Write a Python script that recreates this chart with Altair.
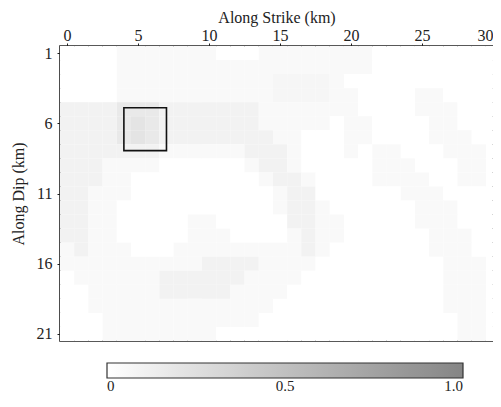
import altair as alt
import pandas as pd

strike_km = [0, 1, 2, 3, 4, 5, 6, 7, 8, 9, 10, 11, 12, 13, 14, 15,
             16, 17, 18, 19, 20, 21, 22, 23, 24, 25, 26, 27, 28, 29, 30]
dip_km = [1, 2, 3, 4, 5, 6, 7, 8, 9, 10, 11, 12, 13, 14, 15, 16, 17, 18, 19, 20, 21]

row_01 = [0, 0, 0, 0, .05, .05, .05, .05, .05, .05, .05, 0, 0, 0, .05, .05, .05, .05, .05, .05, .05, .05, 0, 0, 0, 0, 0, 0, 0, 0, 0]
row_02 = [0, 0, 0, 0, .05, .05, .05, .05, .05, .05, .05, .05, .05, .05, .05, .05, .05, .05, .05, .05, .05, .05, 0, 0, 0, 0, 0, 0, 0, 0, 0]
row_03 = [0, 0, 0, 0, .05, .05, .05, .05, .05, .05, .05, .05, .05, .05, .05, .07, .07, .07, .07, .05, 0, 0, 0, 0, 0, 0, 0, 0, 0, 0, 0]
row_04 = [0, 0, 0, 0, .05, .05, .05, .05, .05, .05, .05, .05, .05, .05, .05, .07, .07, .07, .07, .05, .05, 0, 0, 0, 0, .05, .05, 0, 0, 0, 0]
row_05 = [.1, .1, .1, .1, .17, .17, .17, .1, .1, .1, .1, .1, .1, .1, .05, .05, .05, .05, .05, .05, .05, 0, 0, 0, 0, .05, .05, .05, 0, 0, 0]
row_06 = [.1, .1, .1, .1, .17, .21, .17, .1, .1, .1, .1, .1, .1, .1, .05, .05, .05, .05, .05, 0, .05, .05, 0, 0, 0, 0, .05, .05, 0, 0, 0]
row_07 = [.1, .1, .1, .1, .17, .21, .17, .1, .1, .1, .1, .1, .1, .1, .1, .05, .05, 0, 0, 0, .05, .05, 0, 0, 0, 0, .05, .05, .05, 0, 0]
row_08 = [.1, .1, .1, .1, .1, .1, .1, .05, .05, .05, .05, .05, .05, .1, .1, .1, .05, 0, 0, 0, .05, 0, .05, .05, 0, 0, 0, .05, .05, .05, 0]
row_09 = [.1, .1, .1, .05, .05, .05, .05, 0, 0, 0, 0, 0, 0, .05, .1, .1, .05, 0, 0, 0, 0, 0, .05, .05, .05, 0, 0, 0, .05, .05, 0]
row_10 = [.1, .1, .1, .05, .05, 0, 0, 0, 0, 0, 0, 0, 0, 0, .05, .1, .1, .05, 0, 0, 0, 0, .05, .05, .05, .05, 0, 0, .05, .05, 0]
row_11 = [.1, .1, .05, .05, .05, 0, 0, 0, 0, 0, 0, 0, 0, 0, 0, .05, .1, .1, 0, 0, 0, 0, 0, 0, .05, .05, .05, 0, 0, 0, 0]
row_12 = [.1, .1, .05, .05, 0, 0, 0, 0, 0, 0, 0, 0, 0, 0, 0, .05, .1, .1, .05, 0, 0, 0, 0, 0, 0, .05, .05, .05, 0, 0, 0]
row_13 = [.1, .1, .05, .05, 0, 0, 0, 0, 0, .05, .05, 0, 0, 0, 0, 0, .1, .1, .05, .05, 0, 0, 0, 0, 0, .05, .05, .05, 0, 0, 0]
row_14 = [.1, .1, .05, .05, 0, 0, 0, 0, 0, .05, .05, .05, 0, 0, 0, 0, .05, .1, .05, .05, 0, 0, 0, 0, 0, 0, .05, .05, .05, 0, 0]
row_15 = [.05, .1, .05, .05, .05, 0, 0, 0, .05, .05, .05, .05, .05, .05, .05, .05, .05, .1, .05, 0, 0, 0, 0, 0, 0, 0, .05, .05, .05, 0, 0]
row_16 = [.05, .05, .05, .05, .05, .05, .05, .05, .05, .05, .1, .1, .1, .1, .05, .05, .05, .05, 0, 0, 0, 0, 0, 0, 0, 0, 0, .05, .05, .05, 0]
row_17 = [0, .05, .05, .05, .05, .05, .05, .1, .1, .1, .1, .1, .1, .05, .05, .05, .05, 0, 0, 0, 0, 0, 0, 0, 0, 0, 0, .05, .05, .05, 0]
row_18 = [0, 0, .05, .05, .05, .05, .05, .1, .1, .1, .1, .1, .05, .05, .05, .05, 0, 0, 0, 0, 0, 0, 0, 0, 0, 0, 0, .05, .05, .05, 0]
row_19 = [0, 0, .05, .05, .05, .05, .05, .05, .05, .05, .05, .05, .05, .05, .05, 0, 0, 0, 0, 0, 0, 0, 0, 0, 0, 0, 0, .05, .05, .05, 0]
row_20 = [0, 0, 0, .05, .05, .05, .05, .05, .05, .05, .05, .05, .05, .05, 0, 0, 0, 0, 0, 0, 0, 0, 0, 0, 0, 0, 0, 0, .05, .05, 0]
row_21 = [0, 0, 0, .05, .05, .05, .05, .05, .05, .05, .05, 0, 0, 0, 0, 0, 0, 0, 0, 0, 0, 0, 0, 0, 0, 0, 0, 0, .05, .05, 0]

rows = [row_01, row_02, row_03, row_04, row_05, row_06, row_07, row_08, row_09, row_10,
        row_11, row_12, row_13, row_14, row_15, row_16, row_17, row_18, row_19, row_20, row_21]

box_strike = [4, 7]
box_dip = [4.9, 7.95]

x_ticks = [0, 5, 10, 15, 20, 25, 30]
y_ticks = [1, 6, 11, 16, 21]
legend_values = [0, 0.5, 1]

records = []
for yi, row in zip(dip_km, rows):
    for xi, v in zip(strike_km, row):
        records.append({"xs": xi - 0.5, "xe": xi + 0.5, "ys": yi - 0.5, "ye": yi + 0.5, "value": v})
cells = pd.DataFrame(records)
box_df = pd.DataFrame({"x": [box_strike[0]], "x2": [box_strike[1]],
                       "y": [box_dip[0]], "y2": [box_dip[1]]})

FONT = "Liberation Serif"

xscale = alt.Scale(domain=[-0.5, 30.0], nice=False, zero=False)
yscale = alt.Scale(domain=[0.5, 21.5], nice=False, zero=False, reverse=True)

heat = alt.Chart(cells).mark_rect(strokeWidth=0, clip=True).encode(
    x=alt.X("xs:Q", scale=xscale,
            axis=alt.Axis(orient="top", title="Along Strike (km)", values=x_ticks,
                          tickSize=3, labelPadding=0, titlePadding=2, grid=False,
                          domain=False, tickColor="#222",
                          labelAlign={"condition": {"test": "datum.value == 30", "value": "right"},
                                      "value": "center"})),
    x2="xe:Q",
    y=alt.Y("ys:Q", scale=yscale,
            axis=alt.Axis(title="Along Dip (km)", values=y_ticks, tickSize=3,
                          labelPadding=5, titlePadding=10, grid=False,
                          domain=False, tickColor="#222")),
    y2="ye:Q",
    color=alt.Color("value:Q",
                    scale=alt.Scale(domain=[0, 1], range=["#ffffff", "#858585"]),
                    legend=alt.Legend(orient="none", direction="horizontal", title=None,
                                      legendX=47, legendY=317, gradientLength=356,
                                      gradientThickness=15, gradientStrokeColor="#333",
                                      gradientStrokeWidth=1.2, values=legend_values,
                                      labelExpr="datum.value == 0 ? '0' : (datum.value == 1 ? '1.0' : '0.5')",
                                      labelFontSize=15, labelFont=FONT, labelColor="#222",
                                      labelOffset=1)),
)

box = alt.Chart(box_df).mark_rect(filled=False, stroke="#111", strokeWidth=1.6, fillOpacity=0).encode(
    x="x:Q", x2="x2:Q", y="y:Q", y2="y2:Q"
)

chart = alt.layer(heat, box).properties(
    width=433, height=295,
    autosize=alt.AutoSizeParams(type="none"),
    padding={"left": 52, "top": 38, "right": 0, "bottom": 53},
).configure_view(
    stroke="#222", strokeWidth=1.6
).configure_axis(
    labelFont=FONT, titleFont=FONT, labelFontSize=16, titleFontSize=16,
    titleFontWeight="normal", labelColor="#222", titleColor="#222"
)

chart.save("out.html", embed_options={"renderer": "svg", "actions": False})
